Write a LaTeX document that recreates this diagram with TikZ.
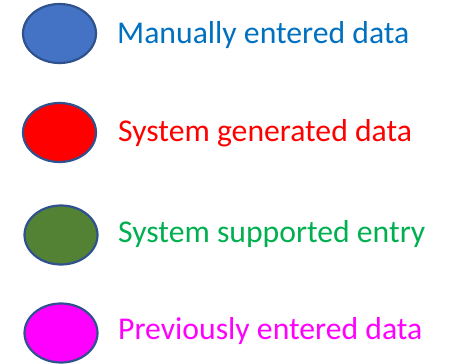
\documentclass[tikz,border=0pt]{standalone}
\usepackage{fontspec}
\setmainfont{Carlito}
\usetikzlibrary{shapes.geometric}
\definecolor{bluefill}{HTML}{4472C4}
\definecolor{edge}{HTML}{2F528F}
\definecolor{bluetxt}{HTML}{0070C0}
\definecolor{greenfill}{HTML}{548235}
\definecolor{greentxt}{HTML}{00B050}
\definecolor{magenta2}{HTML}{FF00FF}
\tikzset{
  blob/.style={ellipse, draw=edge, line width=2.2pt, minimum width=73pt, minimum height=59pt, inner sep=0pt},
  lbl/.style={anchor=base west, inner sep=0pt, font=\fontsize{31.7}{32}\selectfont}
}
\begin{document}
\begin{tikzpicture}[x=1pt,y=-1pt]
\useasboundingbox (0,0) rectangle (451,364);
\node[blob, fill=bluefill] (e1) at (59.5,33.5) {};
\node[blob, fill=red] (e2) at (59.5,132.5) {};
\node[blob, fill=greenfill] (e3) at (61,235) {};
\node[blob, fill=magenta2] (e4) at (61,333) {};
\node[lbl, text=bluetxt] (t1) at (117,43) {Manually entered data};
\node[lbl, text=red] (t2) at (118,142) {System generated data};
\node[lbl, text=greentxt] (t3) at (118,242) {System supported entry};
\node[lbl, text=magenta2] (t4) at (118,339) {Previously entered data};
\end{tikzpicture}
\end{document}
